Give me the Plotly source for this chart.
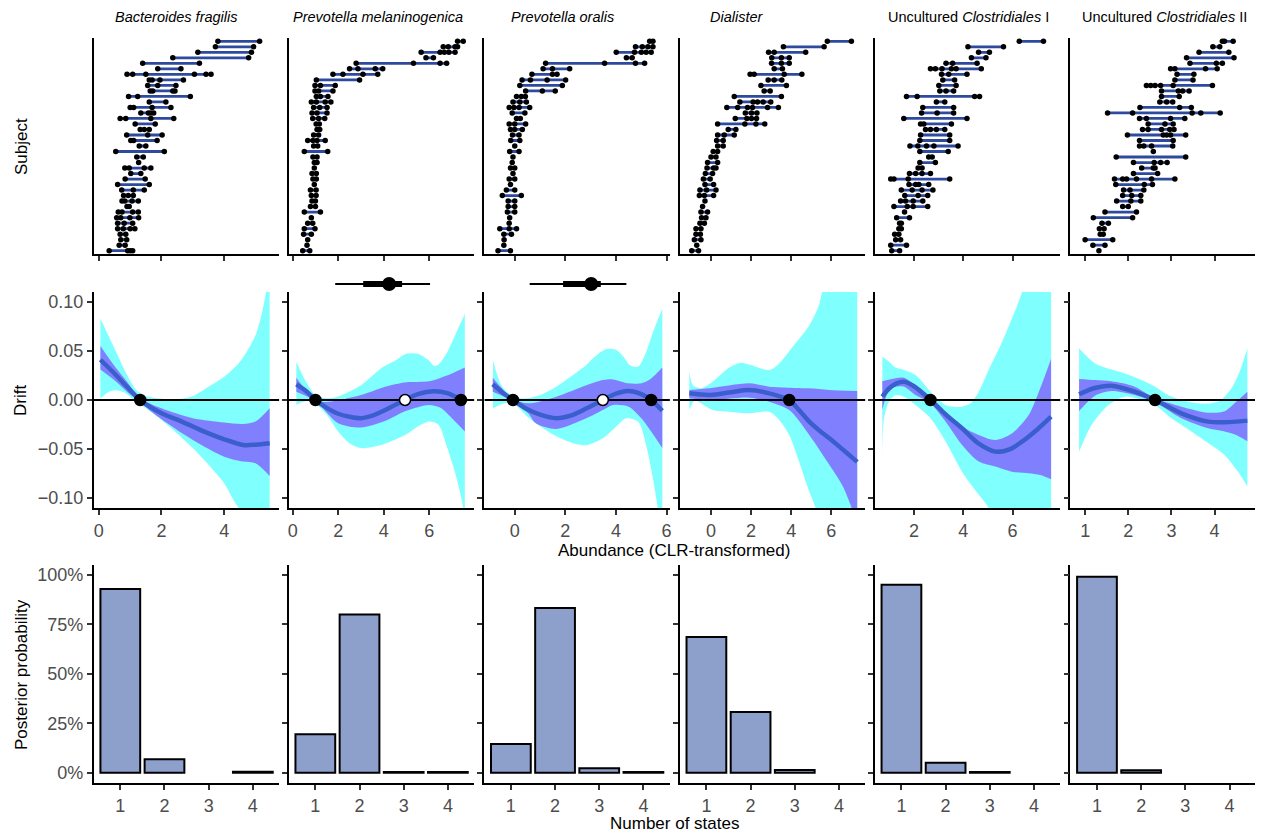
import plotly.graph_objects as go

# ---------------- data ----------------
taxa = ["<i>Bacteroides fragilis</i>", "<i>Prevotella melaninogenica</i>", "<i>Prevotella oralis</i>",
        "<i>Dialister</i>", "Uncultured <i>Clostridiales</i> I", "Uncultured <i>Clostridiales</i> II"]

# top row: abundance observations per subject (listed top -> bottom)
subj_bf = [[3.80,5.13],[3.72,4.94],[3.16,4.87],[2.36,4.78],[1.40,3.21],[1.88,2.62],[0.90,1.08,1.50,3.05,3.42,3.58],
           [1.61,1.70,1.95,2.70],[1.56,1.88,2.46],[1.64,1.72,2.36,2.43],[0.95,1.24,2.92],[1.61,2.14],[1.00,1.11,1.70,2.30],
           [1.34,1.58,1.66,1.75],[0.68,0.86,1.66,2.39],[1.16,1.80],[1.32,1.45,1.61],[0.89,1.56,2.02],[1.02,1.11,1.86],
           [1.29,1.50],[0.54,2.09],[1.21,1.42],[1.27],[0.83,0.97,1.45,1.66],[1.02,1.34],[0.84,1.48],[0.60,1.61],
           [0.73,1.10,1.45],[0.79,0.94,1.10],[0.74,0.83,1.06,1.26],[0.90,0.97],[0.62,0.74,1.08,1.26],[0.57,0.70,0.99,1.27],
           [0.60,0.81,1.08],[0.60,0.78,1.00,1.15],[0.68,0.86],[0.70,0.89],[0.65,0.84],[0.33,0.92,1.00,1.08]]
subj_pm = [[7.25,7.50],[6.62,6.84,7.14,7.25],[5.65,6.48,6.67,6.87,7.14],[5.86,6.19],[2.79,5.31,6.48,6.77],[2.50,2.87,3.63,3.96],
           [1.77,2.21,3.09,3.74],[1.04,2.94],[0.98,1.22,1.87],[0.98,1.14,1.77],[1.04,1.22,1.55],[0.82,1.04,1.43,1.68],
           [0.92,1.19,1.51],[0.85,1.07,1.51],[0.88,1.14,1.41],[1.03,1.17],[1.07,1.19],[0.92,1.14],[0.66,0.89,1.07,1.43],
           [0.92,1.10],[0.51,1.54],[0.89,1.07],[0.95,1.07],[0.95],[0.85,1.04],[0.89,1.04],[0.95],[0.78,1.03],[0.82,1.03],
           [0.85,1.00],[0.78,1.00],[0.51,1.22],[0.82],[0.66,0.88],[0.51,0.98],[0.48,0.82],[0.66],[0.63],[0.44,0.75]]
subj_po = [[5.33,5.46],[4.77,5.04,5.26,5.46],[4.01,4.73,5.00,5.19,5.39],[4.41,4.64],[1.22,3.55,4.77,5.13],[1.12,1.49,2.17],
           [0.68,1.49,1.67],[0.29,0.62,1.28,2.01],[0.20,1.88],[0.43,1.09,1.60],[0.07,0.26,0.42],[-0.07,0.20,0.46],
           [-0.22,-0.03,0.17,0.59],[-0.10,0.40],[0.07,0.22],[-0.22,0.00,0.43],[-0.17,0.00,0.30],[-0.09,0.17],[-0.16,0.20],
           [0.00],[-0.20,0.17],[-0.07],[-0.10],[-0.17,0.00],[-0.07],[-0.22,0.00],[-0.17],[-0.33,0.00],[-0.49,0.26],
           [-0.26,0.00],[-0.26,0.00],[-0.29,0.00],[-0.20],[-0.22],[-0.59,-0.22,0.07],[-0.43,-0.13],[-0.42],[-0.43],[-0.66,-0.17]]
subj_di = [[5.80,7.00],[3.61,5.64],[2.87,3.15,4.72],[3.03,3.51,3.90],[3.02,3.51,3.90],[3.15,3.56],[1.95,2.15,3.65,4.53],
           [2.85,3.15,3.53],[2.49,3.76],[2.65,2.95],[1.16,3.51],[1.44,2.10,2.32,2.60,2.98],[0.79,1.33,1.82,2.07,2.82,3.36],
           [1.71,2.02,2.29],[1.21,1.79,2.02,2.27],[0.33,1.69,2.24,2.68],[0.86,1.24],[0.33,0.66,1.16],[0.28,0.61],[0.33,0.61],
           [0.11,0.33],[0.00,0.25],[-0.17,0.33],[-0.20,0.13,0.25],[-0.28,0.08],[-0.38,-0.04],[-0.30,0.13],[-0.55,-0.22,0.25],
           [-0.58,-0.33,0.13],[-0.30],[-0.42],[-0.50,-0.17],[-0.47,-0.25],[-0.55,-0.33],[-0.75,-0.50],[-0.75,-0.53],
           [-0.83,-0.50],[-0.71],[-0.96,-0.62]]
subj_c1 = [[6.27,7.25],[4.19,5.63],[4.62,5.06],[4.33,4.92],[3.30,3.57,4.56],[2.67,2.87,3.14,3.52,3.71,4.73],[3.12,3.41,4.15],
           [3.17,3.65],[3.01,3.71],[3.05,3.30,3.61],[1.70,2.13,4.46,4.66],[2.91,3.25],[2.36,3.61],[2.31,2.94,3.61],[1.59,4.15],
           [2.27,2.40,3.52],[2.47,2.67,2.91,3.25],[2.27,3.45],[2.24,3.45],[1.84,2.16,2.51,2.81,3.79],[2.24,3.39],[2.60,2.74],
           [2.24,2.87],[2.17,2.33],[1.82,2.07,2.33,2.67],[1.06,1.19,1.77,3.45],[1.80,2.07,2.20,2.60],[1.49,1.93,2.33,2.77],
           [1.63,2.17,2.56],[1.46,1.66,1.97,2.36],[1.19,1.73,1.97,2.56],[1.62],[1.30,1.82],[1.42,1.49],[1.39,1.49],
           [1.22,1.39],[1.26,1.46],[1.06,1.70],[1.10,1.42]]
subj_c2 = [[4.18,4.23,4.43],[3.96,4.12],[3.64,4.33],[3.35,4.45],[3.43,4.04,4.18],[2.98,3.08,3.79,4.06],[3.13,3.52],[3.08,3.50],
           [2.42,2.52,2.62,2.75,3.04,3.95],[2.77,3.16,3.26,3.41],[2.77,3.18],[2.73,2.89,3.03],[2.27,3.19,3.46],
           [1.52,2.10,3.48,3.68,4.13],[2.26,2.42,2.98,3.31],[2.46,2.85,3.04],[2.33,2.46,2.77,2.96,3.06],[1.98,2.81,2.89,2.98,3.33],
           [2.26,3.04],[2.26,2.36,2.54,3.03],[2.58],[1.72,3.33],[2.12,2.60,2.75,2.90],[2.31,2.58,2.62],[2.12,2.68],
           [1.68,1.87,1.96,2.19,2.54,3.08],[1.71,2.37,2.56],[1.89,2.04,2.36],[1.87,2.08,2.29],[1.73,2.06,2.29],[1.87,2.00],
           [1.46,2.19],[1.19,2.10],[1.39,1.54],[1.33,1.44],[1.35,1.42],[1.00,1.64],[1.18,1.46],[1.32]]
subjects = [subj_bf, subj_pm, subj_po, subj_di, subj_c1, subj_c2]

# middle row: drift mean curve
mean_x = [[0.05,0.5,0.9,1.32,2.0,2.5,3.0,3.5,4.0,4.6,5.0,5.45],
          [0.16,0.6,1.0,1.5,2.0,2.5,3.0,3.5,4.0,4.5,4.94,5.5,6.2,6.8,7.4,7.57],
          [-0.87,-0.5,-0.07,0.5,1.0,1.64,2.2,2.8,3.48,4.0,4.47,5.0,5.39,5.83],
          [-1.08,-0.5,0.0,1.0,1.9,2.9,3.9,4.4,4.9,5.4,5.9,6.6,7.29],
          [0.72,1.0,1.3,1.6,2.0,2.67,3.3,3.95,4.6,5.3,5.9,6.38,7.0,7.56],
          [0.86,1.2,1.61,2.15,2.62,3.23,3.85,4.23,4.76]]
mean_y = [[0.041,0.027,0.0135,0.0,-0.0135,-0.020,-0.027,-0.034,-0.040,-0.0458,-0.0455,-0.044],
          [0.016,0.009,0.0,-0.008,-0.014,-0.017,-0.0185,-0.016,-0.011,-0.005,0.0,0.006,0.009,0.007,0.0,-0.003],
          [0.016,0.008,0.0,-0.0095,-0.015,-0.0186,-0.016,-0.009,0.0,0.0065,0.0092,0.006,0.0,-0.011],
          [0.0068,0.0055,0.0052,0.008,0.0102,0.0068,0.0,-0.0105,-0.022,-0.031,-0.039,-0.051,-0.063],
          [0.0034,0.012,0.017,0.0186,0.014,0.0,-0.015,-0.0288,-0.044,-0.0526,-0.050,-0.0424,-0.030,-0.017],
          [0.0058,0.012,0.0146,0.0085,0.0,-0.0136,-0.022,-0.0227,-0.021]]

# inner (50%) band
in_up_x = [[0.05,0.5,0.9,1.3,2.0,3.0,4.0,4.6,5.0,5.45],
           [0.16,1.0,1.5,3.0,4.0,5.0,6.0,7.0,7.57],
           [-0.87,-0.07,0.53,1.64,2.83,3.48,3.88,4.5,5.0,5.39,5.83],
           [-1.08,-0.08,1.91,2.9,3.9,4.9,5.9,7.29],
           [0.72,1.39,1.6,2.07,2.67,3.28,3.95,4.63,5.3,5.97,6.65,7.12,7.56],
           [0.86,1.23,1.61,2.15,2.62,3.23,3.85,4.23,4.5,4.76]]
in_up_y = [[0.055,0.0346,0.0186,0.002,-0.0085,-0.0186,-0.023,-0.0244,-0.022,-0.0085],
           [0.0226,0.0,-0.002,0.005,0.013,0.018,0.019,0.027,0.033],
           [0.0226,0.001,-0.0034,0.0034,0.015,0.0203,0.021,0.017,0.017,0.022,0.033],
           [0.0102,0.0119,0.017,0.0136,0.0126,0.0119,0.0102,0.0092],
           [0.019,0.0226,0.0226,0.015,0.0034,-0.0119,-0.027,-0.0356,-0.0407,-0.034,-0.0153,0.012,0.042],
           [0.0214,0.0203,0.019,0.0136,0.0017,-0.0068,-0.0129,-0.0115,-0.0017,0.0085]]
in_lo_x = [[0.05,0.5,0.9,1.3,2.0,3.0,4.0,4.6,5.0,5.45],
           [0.16,1.0,2.0,3.0,4.0,5.0,6.0,6.5,7.0,7.57],
           [-0.87,-0.07,0.53,0.83,1.64,2.83,3.48,3.88,4.5,5.0,5.39,5.83],
           [-1.08,-0.08,1.91,2.9,3.9,4.9,5.9,6.55,6.96,7.29],
           [0.72,0.99,1.26,1.6,2.07,2.67,3.28,3.95,4.63,5.3,5.97,6.65,7.12,7.56],
           [0.86,1.23,1.61,2.15,2.62,3.23,3.85,4.23,4.5,4.76]]
in_lo_y = [[0.031,0.020,0.0085,-0.002,-0.0196,-0.0407,-0.0577,-0.0627,-0.0644,-0.0773],
           [0.0085,-0.001,-0.0236,-0.028,-0.022,-0.011,-0.005,-0.008,-0.0185,-0.032],
           [0.0085,-0.001,-0.0135,-0.0237,-0.0295,-0.0186,-0.0102,-0.0051,-0.0068,-0.0186,-0.032,-0.049],
           [0.0017,0.0,0.0024,-0.0017,-0.0102,-0.0356,-0.066,-0.087,-0.107,-0.13],
           [-0.0102,0.0102,0.0136,0.0136,0.005,-0.0034,-0.022,-0.0458,-0.0627,-0.0678,-0.073,-0.0746,-0.0763,-0.0807],
           [-0.0112,0.0044,0.0092,0.005,-0.0024,-0.0186,-0.0288,-0.032,-0.0356,-0.042]]

# outer (95%) band
out_up_x = [[0.05,0.3,0.6,0.9,1.2,1.5,2.0,2.5,3.0,3.5,4.0,4.5,5.0,5.2,5.35,5.45],
            [0.16,0.6,1.0,1.5,2.0,3.0,4.0,4.5,5.0,5.5,6.0,6.2,6.4,6.8,7.2,7.57],
            [-0.86,-0.53,-0.07,0.5,1.0,1.64,2.3,2.83,3.16,3.62,4.01,4.3,4.54,4.87,5.19,5.46,5.83],
            [-1.08,-0.9,-0.5,0.08,0.91,1.49,1.99,2.9,3.4,4.06,4.9,5.39,5.54,7.29],
            [0.72,0.99,1.26,1.6,2.07,2.67,3.28,3.62,3.95,4.29,4.63,5.03,5.57,5.97,6.38,7.56],
            [0.86,1.23,1.92,2.31,2.62,2.92,3.23,3.62,3.92,4.15,4.39,4.58,4.76]]
out_up_y = [[0.083,0.066,0.0458,0.0254,0.010,0.004,0.0012,0.0007,0.004,0.0136,0.0237,0.039,0.066,0.088,0.112,0.13],
            [0.0387,0.018,0.005,0.0017,0.0035,0.015,0.034,0.040,0.047,0.047,0.040,0.035,0.036,0.049,0.069,0.0875],
            [0.0407,0.015,0.0034,0.0017,0.005,0.0136,0.0254,0.0356,0.044,0.052,0.051,0.044,0.0356,0.034,0.049,0.069,0.093],
            [0.0288,0.015,0.012,0.0186,0.033,0.038,0.0356,0.0305,0.0373,0.054,0.076,0.097,0.11,0.2],
            [0.044,0.039,0.033,0.0305,0.0254,0.0085,-0.0051,-0.0068,-0.0068,-0.0034,0.0085,0.0305,0.059,0.083,0.11,0.25],
            [0.0526,0.0373,0.0271,0.0203,0.0136,0.0051,0.0,-0.0034,-0.0034,0.0,0.0119,0.0288,0.0526]]
out_lo_x = [[0.05,0.3,0.5,0.8,1.2,1.5,2.0,2.5,3.0,3.5,4.0,4.3,4.6,5.45],
            [0.16,0.6,1.0,1.5,2.0,2.5,3.0,4.0,5.0,5.5,6.0,6.4,6.8,7.2,7.5,7.57],
            [-0.86,-0.5,-0.07,0.5,1.12,1.64,2.3,2.83,3.48,4.01,4.4,4.87,5.19,5.46,5.65,5.83],
            [-1.08,-0.8,-0.5,0.08,0.91,1.91,2.9,3.4,3.9,4.39,4.89,5.22,7.29],
            [0.72,0.79,0.99,1.26,1.6,2.07,2.67,3.28,3.95,4.63,5.03,7.56],
            [0.86,1.15,1.54,1.92,2.31,2.62,3.0,3.46,3.92,4.23,4.54,4.76]]
out_lo_y = [[0.0017,0.008,0.010,0.008,-0.0017,-0.0085,-0.0203,-0.034,-0.049,-0.066,-0.085,-0.102,-0.118,-0.2],
            [-0.005,-0.001,-0.004,-0.015,-0.032,-0.044,-0.049,-0.045,-0.035,-0.027,-0.022,-0.025,-0.049,-0.079,-0.11,-0.13],
            [-0.0085,-0.004,-0.0034,-0.017,-0.0288,-0.037,-0.044,-0.046,-0.039,-0.027,-0.0186,-0.022,-0.046,-0.080,-0.11,-0.14],
            [-0.0102,0.0,-0.0034,-0.0102,-0.012,-0.0136,-0.012,-0.0203,-0.0356,-0.0627,-0.093,-0.11,-0.25],
            [-0.0593,-0.0186,-0.0017,0.005,0.0034,-0.0051,-0.0186,-0.042,-0.073,-0.0966,-0.11,-0.25],
            [-0.0526,-0.0254,-0.005,0.0034,0.0,-0.005,-0.0186,-0.032,-0.0458,-0.0559,-0.0729,-0.088]]

# equilibria (zero crossings): stable = filled, unstable = open
eq_x = [[1.32], [1.0, 4.94, 7.40], [-0.07, 3.48, 5.39], [3.9], [2.67], [2.62]]
eq_stable = [[True], [True, False, True], [True, False, True], [True], [True], [True]]

# tipping-point posterior summaries (panels 2 and 3)
tp_panel = [1, 2]
tp_median = [4.24, 3.02]
tp_lo66 = [3.10, 1.91]
tp_hi66 = [4.81, 3.40]
tp_lo95 = [1.87, 0.59]
tp_hi95 = [6.04, 4.41]

# bottom row: posterior probability of number of states
states = [1, 2, 3, 4]
post_prob = [[0.929, 0.068, None, 0.005],
             [0.195, 0.800, 0.004, 0.003],
             [0.145, 0.833, 0.022, 0.003],
             [0.686, 0.307, 0.014, None],
             [0.950, 0.050, 0.004, None],
             [0.990, 0.013, None, None]]

# axis settings
x_ranges = [[-0.16, 5.76], [-0.17, 7.99], [-1.20, 6.13], [-1.55, 7.70], [0.42, 7.94], [0.66, 4.96]]
x_ticks = [[0, 2, 4], [0, 2, 4, 6], [0, 2, 4, 6], [0, 2, 4, 6], [2, 4, 6], [1, 2, 3, 4]]
drift_ticks = [-0.10, -0.05, 0.0, 0.05, 0.10]
drift_labels = ["\u22120.10", "\u22120.05", "0.00", "0.05", "0.10"]
prob_ticks = [0, 0.25, 0.5, 0.75, 1.0]
prob_labels = ["0%", "25%", "50%", "75%", "100%"]
strip_centers = [176, 378, 563, 738, 970, 1166]

# ---------------- figure ----------------
# page body has an 8px margin: lay out in reference pixels and shift by it
OX, OY = 8, 8
W, H = 1263 - OX, 837 - OY
FONT = "Liberation Sans, Arial, Helvetica, sans-serif"
col_left = [93, 288.5, 484.5, 680.5, 876, 1072]
panel_w = 186
row_top = [38, 292, 565]
row_bot = [254, 508, 783]
CYAN = "#80FFFF"
PURPLE = "#8080FF"
MEAN = "#3A5FCD"
SEG = "#2E4A9E"
BAR = "#8DA0CB"


def px(x):
    return min(1.0, max(0.0, (x - OX) / W))


def py(y):
    return min(1.0, max(0.0, 1 - (y - OY) / H))


def xd(c):
    return [px(col_left[c]), px(col_left[c] + panel_w)]


def yd(r):
    return [py(row_bot[r]), py(row_top[r])]


def ax_id(r, c):
    return r * 6 + c + 1


fig = go.Figure()
layout = dict(width=W, height=H, autosize=False, margin=dict(l=0, r=0, t=0, b=0),
              plot_bgcolor="white", paper_bgcolor="white", showlegend=False,
              font=dict(family=FONT, color="black"))

for r in range(3):
    for c in range(6):
        i = ax_id(r, c)
        base = dict(showline=True, linecolor="black", linewidth=1.8, ticks="outside", ticklen=5,
                    tickwidth=1.8, tickcolor="#333333", showgrid=False, zeroline=False,
                    tickfont=dict(family=FONT, size=18, color="#4D4D4D"), fixedrange=True)
        xa = dict(base, domain=xd(c), anchor=f"y{i}")
        ya = dict(base, domain=yd(r), anchor=f"x{i}")
        if r < 2:
            xa.update(range=x_ranges[c], tickvals=x_ticks[c])
        if r == 0:
            xa.update(showticklabels=False)
            ya.update(range=[0.4, len(subjects[c]) + 0.6], ticks="", showticklabels=False)
        elif r == 1:
            ya.update(range=[-0.11, 0.11], tickvals=drift_ticks, ticktext=drift_labels,
                      showticklabels=(c == 0))
        else:
            xa.update(range=[0.4, 4.6], tickvals=states)
            ya.update(range=[-0.052, 1.05], tickvals=prob_ticks, ticktext=prob_labels,
                      showticklabels=(c == 0))
        layout["xaxis" if i == 1 else f"xaxis{i}"] = xa
        layout["yaxis" if i == 1 else f"yaxis{i}"] = ya

# extra axes for tipping-point summaries, just above the drift panels
for k, c in enumerate(tp_panel):
    j = 19 + k
    layout[f"yaxis{j}"] = dict(domain=[py(292), py(276)], range=[0, 1], anchor=f"x{ax_id(1, c)}",
                               visible=False, fixedrange=True)


def ref(i):
    return ("x" if i == 1 else f"x{i}"), ("y" if i == 1 else f"y{i}")

# top row
for c in range(6):
    xr, yr = ref(ax_id(0, c))
    rows = subjects[c]
    n = len(rows)
    lx, ly, ptx, pty = [], [], [], []
    for k, obs in enumerate(rows):
        yk = n - k
        lx += [min(obs), max(obs), None]
        ly += [yk, yk, None]
        ptx += obs
        pty += [yk] * len(obs)
    fig.add_trace(go.Scatter(x=lx, y=ly, mode="lines", line=dict(color=SEG, width=2.8),
                             xaxis=xr, yaxis=yr, hoverinfo="skip"))
    fig.add_trace(go.Scatter(x=ptx, y=pty, mode="markers", marker=dict(color="black", size=5.5),
                             xaxis=xr, yaxis=yr, hoverinfo="skip"))

# middle row
for c in range(6):
    xr, yr = ref(ax_id(1, c))
    for lox, loy, upx, upy, col in [(out_lo_x[c], out_lo_y[c], out_up_x[c], out_up_y[c], CYAN),
                                    (in_lo_x[c], in_lo_y[c], in_up_x[c], in_up_y[c], PURPLE)]:
        fig.add_trace(go.Scatter(x=lox, y=loy, mode="lines", line=dict(width=0, shape="spline", smoothing=0.8),
                                 xaxis=xr, yaxis=yr, hoverinfo="skip"))
        fig.add_trace(go.Scatter(x=upx, y=upy, mode="lines", line=dict(width=0, shape="spline", smoothing=0.8),
                                 fill="tonexty", fillcolor=col, xaxis=xr, yaxis=yr, hoverinfo="skip"))
    fig.add_trace(go.Scatter(x=x_ranges[c], y=[0, 0], mode="lines", line=dict(color="black", width=2),
                             xaxis=xr, yaxis=yr, hoverinfo="skip"))
    fig.add_trace(go.Scatter(x=mean_x[c], y=mean_y[c], mode="lines",
                             line=dict(color=MEAN, width=4.5, shape="spline", smoothing=0.8),
                             xaxis=xr, yaxis=yr, hoverinfo="skip"))
    fills = ["black" if s else "white" for s in eq_stable[c]]
    fig.add_trace(go.Scatter(x=eq_x[c], y=[0] * len(eq_x[c]), mode="markers",
                             marker=dict(color=fills, size=11, line=dict(color="black", width=1.5)),
                             cliponaxis=False, xaxis=xr, yaxis=yr, hoverinfo="skip"))

# tipping-point summaries
for k, c in enumerate(tp_panel):
    xr, _ = ref(ax_id(1, c))
    yr = f"y{19 + k}"
    fig.add_trace(go.Scatter(x=[tp_lo95[k], tp_hi95[k]], y=[0.5, 0.5], mode="lines",
                             line=dict(color="black", width=2), xaxis=xr, yaxis=yr, hoverinfo="skip"))
    fig.add_trace(go.Scatter(x=[tp_lo66[k], tp_hi66[k]], y=[0.5, 0.5], mode="lines",
                             line=dict(color="black", width=6), xaxis=xr, yaxis=yr, hoverinfo="skip"))
    fig.add_trace(go.Scatter(x=[tp_median[k]], y=[0.5], mode="markers",
                             marker=dict(color="black", size=14), cliponaxis=False,
                             xaxis=xr, yaxis=yr, hoverinfo="skip"))

# bottom row
for c in range(6):
    xr, yr = ref(ax_id(2, c))
    fig.add_trace(go.Bar(x=states, y=post_prob[c], width=0.9,
                         marker=dict(color=BAR, line=dict(color="black", width=2)),
                         xaxis=xr, yaxis=yr, hoverinfo="skip"))

ann = []
for c in range(6):
    ann.append(dict(text=taxa[c], x=px(strip_centers[c]), y=py(17), xref="paper", yref="paper",
                    showarrow=False, xanchor="center", yanchor="middle",
                    font=dict(family=FONT, size=14.5, color="black")))
title_font = dict(family=FONT, size=17, color="black")
ann.append(dict(text="Subject", x=px(20), y=py(146), xref="paper", yref="paper", showarrow=False,
                textangle=-90, xanchor="center", yanchor="middle", font=title_font))
ann.append(dict(text="Drift", x=px(20), y=py(400), xref="paper", yref="paper", showarrow=False,
                textangle=-90, xanchor="center", yanchor="middle", font=title_font))
ann.append(dict(text="Posterior probability", x=px(20), y=py(674), xref="paper", yref="paper",
                showarrow=False, textangle=-90, xanchor="center", yanchor="middle", font=title_font))
ann.append(dict(text="Abundance (CLR-transformed)", x=px(675), y=py(550), xref="paper", yref="paper",
                showarrow=False, xanchor="center", yanchor="middle", font=title_font))
ann.append(dict(text="Number of states", x=px(675), y=py(823), xref="paper", yref="paper",
                showarrow=False, xanchor="center", yanchor="middle", font=title_font))
layout["annotations"] = ann

fig.update_layout(**layout)
fig.write_html("out.html")
